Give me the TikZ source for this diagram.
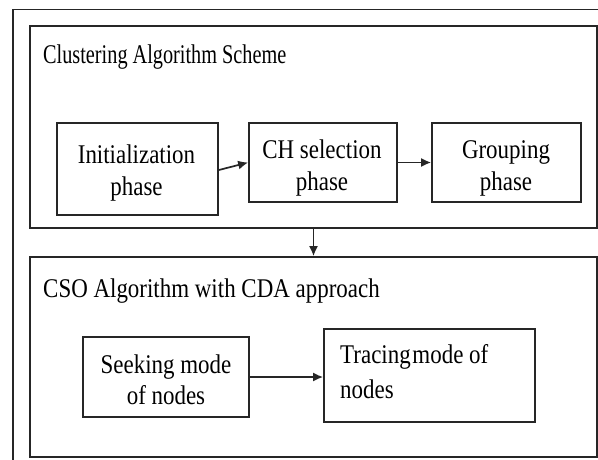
\documentclass[tikz,border=0pt]{standalone}
\usepackage{fontspec}
\setmainfont[FakeStretch=0.85]{Liberation Serif}
\usetikzlibrary{arrows.meta}
\begin{document}
\begin{tikzpicture}[x=1pt,y=-1pt,
  frame/.style={draw=black!85, line width=1.7pt},
  box/.style={draw=black!85, line width=1.7pt, inner sep=0pt},
  lbl/.style={inner sep=0pt, align=center, font=\fontsize{27}{32}\selectfont},
  ttl/.style={inner sep=0pt, anchor=base west, font=\fontsize{27}{32}\selectfont},
  arr/.style={draw=black!85, line width=1.7pt, -{Latex[length=10pt,width=9pt]}}]
\useasboundingbox (0,0) rectangle (598,459);
\clip (0,0) rectangle (598,459);
\fill[white] (0,0) rectangle (598,459);
\draw[frame] (13,9.5) rectangle (620,480);
% panels
\node[box, minimum width=567pt, minimum height=202pt] (top) at (313.5,127) {};
\node[box, minimum width=567pt, minimum height=200pt] (bot) at (313.5,357) {};
% boxes
\node[box, minimum width=161pt, minimum height=92pt] (init) at (137.5,169) {};
\node[box, minimum width=148pt, minimum height=79pt] (ch) at (323,162.5) {};
\node[box, minimum width=149pt, minimum height=79pt] (grp) at (506.5,162.5) {};
\node[box, minimum width=166pt, minimum height=80pt] (seek) at (166,377) {};
\node[box, minimum width=211pt, minimum height=93pt] (trac) at (429.5,375.5) {};
% titles
\node[ttl] (t1) at (43,63) {\scalebox{0.883}[1]{Clustering Algorithm Scheme}};
\node[ttl] (t2) at (43,297) {CSO Algorithm with CDA approach};
% labels
\node[lbl] (tinit) at (136.5,173) {Initialization\\phase};
\node[lbl] (tch) at (322,168.5) {CH selection\\phase};
\node[lbl] (tgrp) at (506,168.5) {Grouping\\phase};
\node[lbl, font=\fontsize{27}{31}\selectfont] (tseek) at (166,379.5) {Seeking mode\\of nodes};
\node[lbl, align=left, anchor=west, font=\fontsize{27}{35}\selectfont] (ttrac) at (340,372) {Tracing\hspace{-4pt} mode of\\nodes};
% arrows
\draw[arr] ([yshift=-1pt]init.east) -- (ch.west);
\draw[arr] (ch.east) -- (grp.west);
\draw[arr] (top.south) -- (bot.north);
\draw[arr] (seek.east) -- (seek.east -| trac.west);
\end{tikzpicture}
\end{document}
